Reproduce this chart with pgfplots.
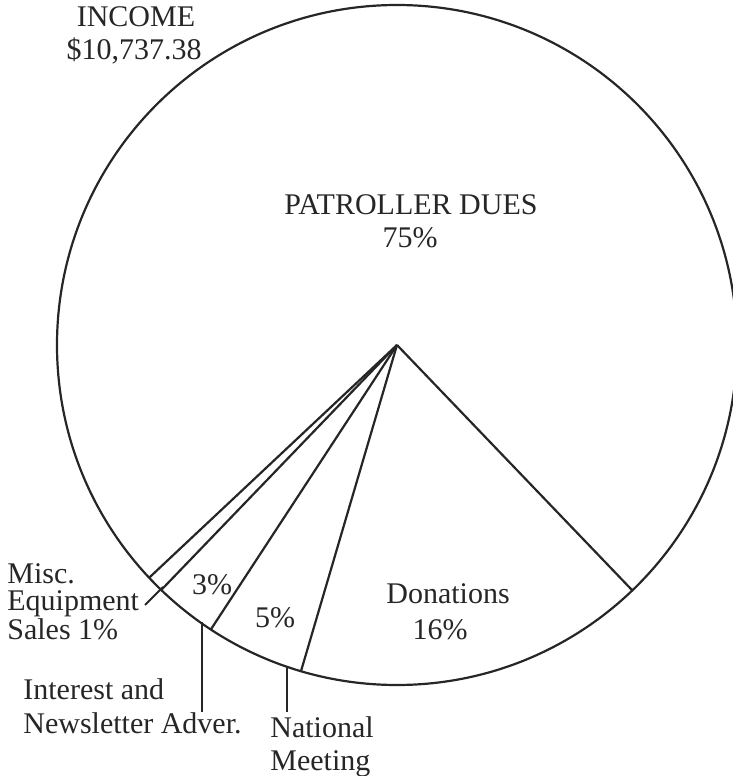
\documentclass[border=0pt]{standalone}
\usepackage{fontspec}
\setmainfont{Liberation Serif}
\usepackage{pgfplots}
\pgfplotsset{compat=1.18}
\usepgfplotslibrary{polar}
\usetikzlibrary{calc}
\definecolor{ink}{HTML}{262626}
\begin{document}
\begin{tikzpicture}
\begin{polaraxis}[
  width=340pt, height=340pt, scale only axis,
  xmin=0, xmax=360, ymin=0, ymax=1,
  xtick=\empty, ytick=\empty, grid=none,
  axis line style={line width=1.1pt, ink},
  y axis line style={draw=none},
  clip=false,
]
\coordinate (C) at (axis cs:0,0);
% slice boundaries (degrees), slices: Patroller Dues 75, Donations 16, National Meeting 5, Interest & Newsletter 3, Misc. 1
\addplot[ink, line width=1.1pt, no marks] coordinates {(0,0) (313.8,1)};
\addplot[ink, line width=1.1pt, no marks] coordinates {(0,0) (253.6,1)};
\addplot[ink, line width=1.1pt, no marks] coordinates {(0,0) (236.8,1)};
\addplot[ink, line width=1.1pt, no marks] coordinates {(0,0) (226.1,1)};
\addplot[ink, line width=1.1pt, no marks] coordinates {(0,0) (223.2,1)};
\end{polaraxis}
\begin{scope}[shift={(C)}, x=0.5pt, y=-0.5pt, shift={(-397,-345)},
  every node/.style={font=\fontsize{15}{16}\selectfont, text=ink, inner sep=0pt}]
  \node[anchor=base] at (136,27) {INCOME};
  \node[anchor=base] at (134,60) {\$10,737.38};
  \node[anchor=base] at (411,215) {PATROLLER DUES};
  \node[anchor=base] at (410,248) {75\%};
  \node[anchor=base] at (448,604) {Donations};
  \node[anchor=base] at (440,640) {16\%};
  \node[anchor=base] at (275,628) {5\%};
  \node[anchor=base] at (212,595) {3\%};
  \node[anchor=base west, align=left, font=\fontsize{15}{13.5}\selectfont] at (7,640) {Misc.\\Equipment\\Sales 1\%};
  \node[anchor=base west] at (23,700) {Interest and};
  \node[anchor=base west] at (23,733) {Newsletter Adver.};
  \node[anchor=base west] at (270,737) {National};
  \node[anchor=base west] at (270,770) {Meeting};
  \draw[ink, line width=0.9pt] (145,605) -- (163,587);
  \draw[ink, line width=0.9pt] (202,622) -- (202,712);
  \draw[ink, line width=0.9pt] (287,667) -- (287,712);
  \pgfresetboundingbox
  \path[use as bounding box] (0,0) rectangle (733,776);
\end{scope}
\end{tikzpicture}
\end{document}
